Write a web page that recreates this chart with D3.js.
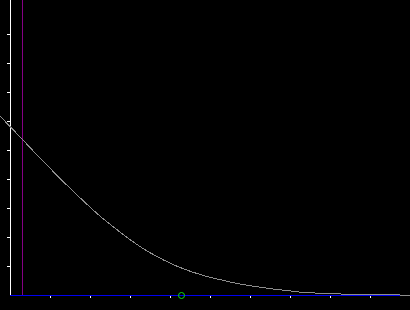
<!DOCTYPE html>
<html>
<head>
<meta charset="utf-8">
<script src="https://cdn.jsdelivr.net/npm/d3@7"></script>
<style>
  html, body { margin: 0; padding: 0; background: #000; overflow: hidden; }
  svg { display: block; }
</style>
</head>
<body>
<div id="chart"></div>
<script>
// curve (x, y in axis units)
const curveX = [-0.25, 0, 0.3, 0.75, 1.0, 1.42, 1.83, 2.25, 2.5, 2.75, 3.0, 3.25, 3.5, 3.75, 4.0, 4.25, 4.5, 4.75, 5.0, 5.25, 5.5, 5.75, 6.0, 6.25, 6.5, 6.75, 7.0, 7.25, 7.75, 8.375, 9.75, 10];
const curveY = [6.17, 5.81, 5.38, 4.72, 4.37, 3.79, 3.25, 2.72, 2.44, 2.17, 1.91, 1.67, 1.46, 1.27, 1.10, 0.95, 0.82, 0.71, 0.61, 0.53, 0.45, 0.38, 0.32, 0.27, 0.22, 0.18, 0.14, 0.10, 0.06, 0.03, 0.0, -0.01];
const xTicks = [1, 2, 3, 4, 5, 6, 7, 8, 9];
const yTicks = [1, 2, 3, 4, 5, 6, 7, 8, 9];
const markerX = 0.3;   // purple vertical line
const pointX = 4.275;  // green circle on the axis
const pointY = 0;

const width = 410;
const height = 310;
const originX = 10;
const originY = 295;

const x = d3.scaleLinear().domain([0, 10]).range([originX, 410]);
const y = d3.scaleLinear().domain([0, 295 / 29]).range([originY, 0]);

const svg = d3
  .select("#chart")
  .append("svg")
  .attr("width", width)
  .attr("height", height)
  .style("background", "#000");

// left axis ticks
const yAxis = svg
  .append("g")
  .attr("transform", `translate(${originX},0)`)
  .call(d3.axisLeft(y).tickValues(yTicks).tickSize(3).tickFormat(""));
yAxis.select(".domain").remove();
yAxis.selectAll(".tick line").attr("stroke", "#fff");

// bottom axis ticks
const xAxis = svg
  .append("g")
  .attr("transform", `translate(0,${originY})`)
  .call(d3.axisBottom(x).tickValues(xTicks).tickSize(3).tickFormat(""));
xAxis.select(".domain").remove();
xAxis.selectAll(".tick line").attr("stroke", "#fff");

// axis lines
svg
  .append("line")
  .attr("x1", x(0) + 0.5)
  .attr("x2", x(0) + 0.5)
  .attr("y1", 0)
  .attr("y2", y(0))
  .attr("stroke", "#fff");
svg
  .append("line")
  .attr("x1", x(0))
  .attr("x2", x(10))
  .attr("y1", y(0) + 0.5)
  .attr("y2", y(0) + 0.5)
  .attr("stroke", "#0000f0");

// purple marker
svg
  .append("line")
  .attr("x1", x(markerX) + 0.5)
  .attr("x2", x(markerX) + 0.5)
  .attr("y1", 0)
  .attr("y2", y(0))
  .attr("stroke", "#850085");

// curve
const pts = curveX.map((d, i) => [d, curveY[i]]);
const line = d3
  .line()
  .x((d) => x(d[0]))
  .y((d) => y(d[1]))
  .curve(d3.curveMonotoneX);
svg
  .append("path")
  .datum(pts)
  .attr("d", line)
  .attr("fill", "none")
  .attr("stroke", "#8e8e8e")
  .attr("stroke-width", 1)
  .attr("shape-rendering", "crispEdges");

// green point
svg
  .append("circle")
  .attr("cx", x(pointX) + 0.5)
  .attr("cy", y(pointY) + 0.5)
  .attr("r", 3)
  .attr("fill", "none")
  .attr("stroke", "#10e010");
</script>
</body>
</html>
